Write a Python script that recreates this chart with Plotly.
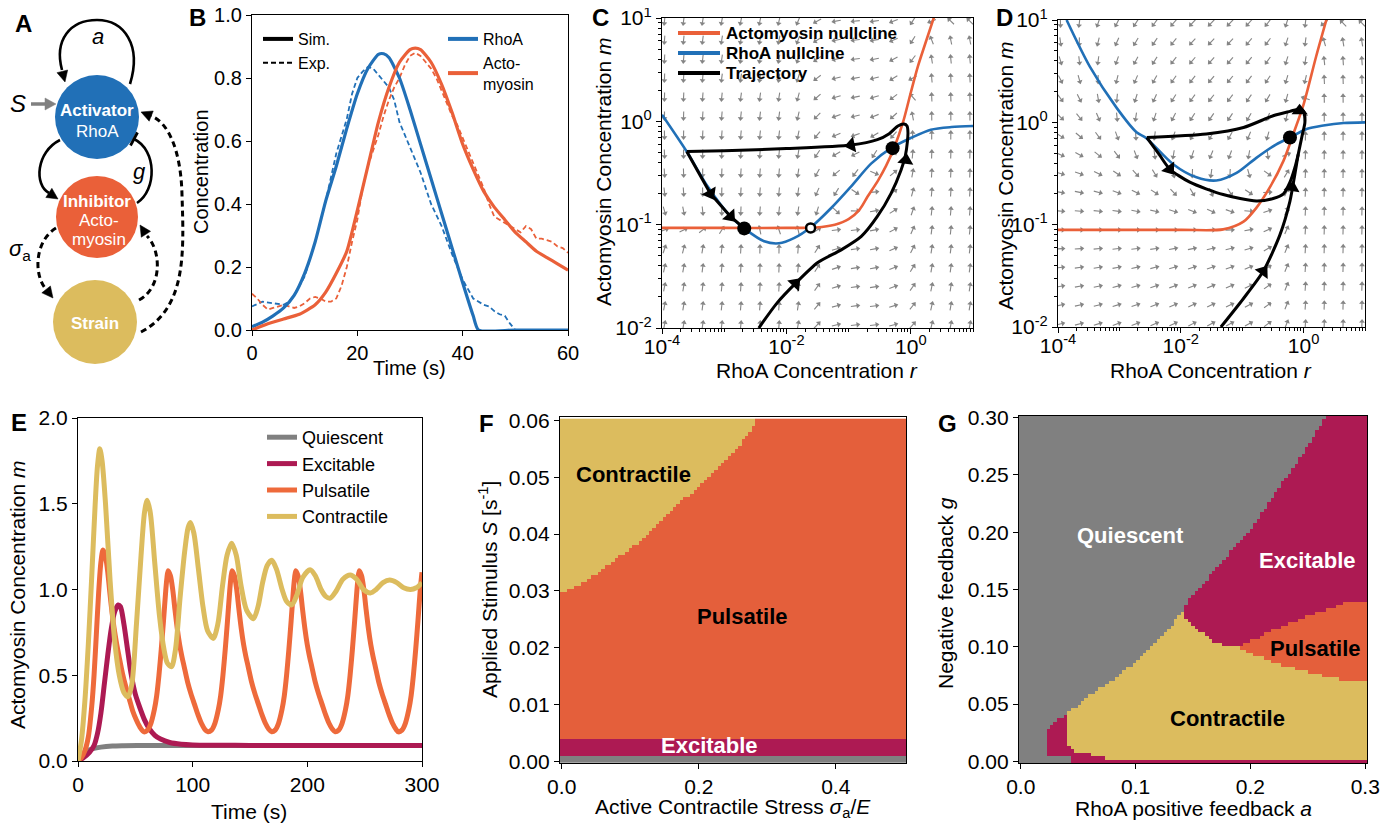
import math
import numpy as np
import plotly.graph_objects as go

# The page body has an 8px margin: the figure is drawn at (8, 8); place everything at (reference px - 8).
W, H = 1395, 824
OFF = 8
FONT = "Liberation Sans, Arial, Helvetica, sans-serif"

BLUE = "#2170b7"
ORANGE = "#ea6039"
YELLOW = "#dcbc5e"
MAGENTA = "#ad1a53"
GREY = "#808080"
QGREY = "#858585"
F_ORANGE = "#e45f3b"

# ---------------- Panel B : time courses ----------------
B_T_RHOA_SIM = [0, 2, 4, 6, 8, 10, 12, 14, 16, 18, 20, 22, 24, 25, 26, 28, 30, 32, 34, 36, 38, 40, 42, 43, 50, 60]
B_RHOA_SIM = [0.01, 0.025, 0.045, 0.07, 0.11, 0.18, 0.28, 0.41, 0.52, 0.64, 0.75, 0.83, 0.875, 0.877, 0.865, 0.80, 0.70,
              0.59, 0.48, 0.37, 0.26, 0.15, 0.045, 0.0, 0.0, 0.0]
B_T_ACTO_SIM = [0, 3, 6, 9, 12, 14, 16, 18, 20, 22, 24, 26, 28, 30, 31, 32, 34, 36, 38, 40, 42, 44, 46, 48, 50, 52, 54,
                56, 58, 60]
B_ACTO_SIM = [0.0, 0.02, 0.035, 0.05, 0.08, 0.12, 0.18, 0.25, 0.38, 0.52, 0.66, 0.77, 0.85, 0.89, 0.895, 0.89, 0.85,
              0.78, 0.69, 0.59, 0.51, 0.44, 0.39, 0.35, 0.31, 0.28, 0.25, 0.23, 0.21, 0.19]
B_T_RHOA_EXP = [0, 2, 4, 6, 7, 8, 10, 12, 14, 16, 18, 19, 20, 21, 22, 23, 24, 26, 27, 28, 30, 32, 34, 36, 38, 40, 42,
                44, 45, 46, 47, 48, 49, 50]
B_RHOA_EXP = [0.075, 0.09, 0.085, 0.08, 0.09, 0.11, 0.17, 0.28, 0.41, 0.56, 0.67, 0.75, 0.80, 0.82, 0.835, 0.83, 0.81,
              0.77, 0.73, 0.66, 0.58, 0.50, 0.40, 0.33, 0.24, 0.16, 0.10, 0.08, 0.075, 0.06, 0.05, 0.045, 0.02, 0.0]
B_T_ACTO_EXP = list(range(0, 61))
B_ACTO_EXP = [0.115, 0.10, 0.08, 0.065, 0.07, 0.075, 0.08, 0.075, 0.07, 0.075, 0.085, 0.10, 0.105, 0.10, 0.09, 0.09,
              0.10, 0.14, 0.20, 0.28, 0.35, 0.45, 0.52, 0.57, 0.62, 0.68, 0.73, 0.77, 0.80, 0.84, 0.87, 0.88, 0.87,
              0.85, 0.83, 0.80, 0.76, 0.72, 0.68, 0.65, 0.61, 0.57, 0.53, 0.49, 0.45, 0.40, 0.36, 0.35, 0.34, 0.33,
              0.32, 0.31, 0.33, 0.32, 0.29, 0.29, 0.285, 0.28, 0.265, 0.26, 0.245]

# ---------------- Panel C : phase plane (excitable) ----------------
C_ORANGE_R = [1e-4, 1e-3, 0.01, 0.03, 0.06, 0.1, 0.15, 0.2, 0.3, 0.4, 0.55, 0.75, 1.0, 1.3, 1.7, 2.4]
C_ORANGE_M = [0.093, 0.093, 0.093, 0.094, 0.1, 0.113, 0.14, 0.185, 0.27, 0.37, 0.57, 0.98, 1.9, 3.4, 5.6, 10.5]
C_BLUE_R = [1e-4, 2.5e-4, 5.4e-4, 1.26e-3, 2.2e-3, 4.4e-3, 7.6e-3, 0.0132, 0.025, 0.0525, 0.11, 0.23, 0.48, 1.0,
            2.1, 4.5, 10.0]
C_BLUE_M = [1.16, 0.51, 0.235, 0.12, 0.09, 0.069, 0.066, 0.074, 0.095, 0.145, 0.235, 0.39, 0.55, 0.69, 0.83, 0.88, 0.9]
C_TRAJ1_R = [0.0036, 0.0071, 0.014, 0.032, 0.076, 0.16, 0.29, 0.48, 0.7, 0.82, 0.88, 0.9, 0.87, 0.78, 0.62, 0.45,
             0.29, 0.11, 0.01, 0.001, 0.00025]
C_TRAJ1_M = [0.01, 0.0175, 0.027, 0.043, 0.057, 0.077, 0.12, 0.2, 0.34, 0.47, 0.63, 0.78, 0.9, 0.94, 0.9, 0.76,
             0.665, 0.59, 0.545, 0.52, 0.51]
C_TRAJ2_R = [0.00025, 0.0006, 0.00126, 0.0021]
C_TRAJ2_M = [0.51, 0.2, 0.12, 0.092]
C_STABLE_R = [0.0021, 0.51]
C_STABLE_M = [0.092, 0.55]
C_SADDLE_R = [0.0245]
C_SADDLE_M = [0.093]
C_ARROW_R = [0.014, 0.83, 0.11, 0.0006, 0.00126]
C_ARROW_M = [0.027, 0.42, 0.59, 0.2, 0.12]
C_ARROW_FROM_R = [0.0071, 0.78, 0.29, 0.00025, 0.0006]
C_ARROW_FROM_M = [0.0175, 0.32, 0.665, 0.51, 0.2]
C_LEGEND_LABELS = ["Actomyosin nullcline", "RhoA nullcline", "Trajectory"]

# ---------------- Panel D : phase plane (pulsatile) ----------------
D_ORANGE_R = [1e-4, 0.01, 0.049, 0.105, 0.17, 0.28, 0.47, 0.68, 1.0, 1.6, 2.4]
D_ORANGE_M = [0.089, 0.089, 0.09, 0.107, 0.146, 0.23, 0.42, 0.77, 1.5, 4.4, 10.5]
D_BLUE_R = [1.38e-4, 3.3e-4, 8.9e-4, 1.9e-3, 2.75e-3, 7.5e-3, 0.018, 0.038, 0.081, 0.17, 0.36, 0.6, 1.12, 2.1, 4.5,
            10.0]
D_BLUE_M = [10.0, 3.5, 1.4, 0.8, 0.7, 0.39, 0.29, 0.27, 0.32, 0.45, 0.61, 0.71, 0.86, 0.93, 0.985, 1.0]
D_TRAJ1_R = [0.045, 0.105, 0.22, 0.41, 0.6, 0.72, 0.82, 0.95, 1.05, 1.0, 0.87, 0.6, 0.32, 0.105, 0.026, 0.0028]
D_TRAJ1_M = [0.01, 0.019, 0.035, 0.079, 0.17, 0.31, 0.49, 0.75, 1.0, 1.28, 1.35, 1.28, 1.16, 0.89, 0.77, 0.71]
D_TRAJ2_R = [0.0028, 0.0045, 0.0066, 0.014, 0.049, 0.17, 0.32, 0.47, 0.6, 0.72, 0.82]
D_TRAJ2_M = [0.71, 0.48, 0.35, 0.26, 0.197, 0.17, 0.18, 0.2, 0.26, 0.36, 0.49]
D_STABLE_R = [0.6]
D_STABLE_M = [0.71]
D_ARROW_R = [0.22, 0.0066, 0.65, 0.86]
D_ARROW_M = [0.035, 0.35, 0.23, 1.3]
D_ARROW_FROM_R = [0.105, 0.0045, 0.6, 0.86]
D_ARROW_FROM_M = [0.019, 0.48, 0.17, 1.0]

# ---------------- Panel E : actomyosin time courses ----------------
E_T_QUI = [0, 3, 6, 10, 15, 20, 30, 40, 60, 100, 300]
E_QUI = [0, 0.03, 0.05, 0.065, 0.075, 0.081, 0.087, 0.089, 0.091, 0.091, 0.091]
E_T_EXC = [0, 5, 10, 14, 17, 20, 23, 26, 29, 32, 35, 37, 40, 43, 46, 50, 54, 58, 62, 67, 72, 80, 90, 100, 120, 150,
           200, 300]
E_EXC = [0, 0.02, 0.05, 0.09, 0.16, 0.28, 0.45, 0.62, 0.77, 0.87, 0.91, 0.9, 0.8, 0.66, 0.52, 0.39, 0.31, 0.24, 0.19,
         0.15, 0.128, 0.108, 0.098, 0.094, 0.092, 0.091, 0.091, 0.091]
E_T_PUL = [0, 3, 6, 9, 12, 14, 16, 18, 20, 21.8, 23.8, 25.8, 27.8, 29.8, 31.8, 33.8, 35.8, 38.8, 41.8, 44.8, 47.8,
           50.8, 53.8, 57.6,
           60.6, 63.6, 66.6, 68.6, 70.6, 72.6, 74.6, 76.6, 77.6, 78.6, 80.6, 82.6, 84.6, 86.6, 88.6, 90.6, 92.6, 95.6,
           98.6, 101.6, 104.6, 107.6, 110.6,
           113.4, 116.4, 119.4, 122.4, 124.4, 126.4, 128.4, 130.4, 132.4, 133.4, 134.4, 136.4, 138.4, 140.4, 142.4,
           144.4, 146.4, 148.4, 151.4, 154.4, 157.4, 160.4, 163.4, 166.4,
           168.9, 171.9, 174.9, 177.9, 179.9, 181.9, 183.9, 185.9, 187.9, 188.9, 189.9, 191.9, 193.9, 195.9, 197.9,
           199.9, 201.9, 203.9, 206.9, 209.9, 212.9, 215.9, 218.9, 221.9,
           224.3, 227.3, 230.3, 233.3, 235.3, 237.3, 239.3, 241.3, 243.3, 244.3, 245.3, 247.3, 249.3, 251.3, 253.3,
           255.3, 257.3, 259.3, 262.3, 265.3, 268.3, 271.3, 274.3, 277.3,
           279.5, 282.5, 285.5, 288.5, 290.5, 292.5, 294.5, 296.5, 298.5, 299.5, 300]
E_PUL = [0, 0.02, 0.06, 0.14, 0.32, 0.5, 0.74, 0.98, 1.16, 1.23, 1.2, 1.11, 0.98, 0.86, 0.76, 0.68, 0.61, 0.51, 0.43,
         0.36, 0.29, 0.24, 0.2, 0.17,
         0.18, 0.22, 0.30, 0.38, 0.50, 0.65, 0.82, 1.0, 1.07, 1.11, 1.08, 1.0, 0.88, 0.77, 0.68, 0.61, 0.55, 0.46,
         0.39, 0.33, 0.27, 0.22, 0.185,
         0.17, 0.18, 0.22, 0.30, 0.38, 0.50, 0.65, 0.82, 1.0, 1.07, 1.11, 1.08, 1.0, 0.88, 0.77, 0.68, 0.61, 0.55,
         0.46, 0.39, 0.33, 0.27, 0.22, 0.185,
         0.17, 0.18, 0.22, 0.30, 0.38, 0.50, 0.65, 0.82, 1.0, 1.07, 1.11, 1.08, 1.0, 0.88, 0.77, 0.68, 0.61, 0.55,
         0.46, 0.39, 0.33, 0.27, 0.22, 0.185,
         0.17, 0.18, 0.22, 0.30, 0.38, 0.50, 0.65, 0.82, 1.0, 1.07, 1.11, 1.08, 1.0, 0.88, 0.77, 0.68, 0.61, 0.55,
         0.46, 0.39, 0.33, 0.27, 0.22, 0.185,
         0.17, 0.18, 0.22, 0.30, 0.38, 0.50, 0.65, 0.82, 1.0, 1.07, 1.10]
E_T_CON = [0, 3, 6, 9, 12, 15, 17, 19, 21, 24, 28, 32, 36, 40, 43.7, 47, 51, 55, 58, 60.3, 63, 67, 71, 75, 78, 81.6,
           85, 89, 93, 96, 98, 101, 105, 109, 113, 118, 122, 126, 130, 134, 138, 142, 147, 153, 157, 161, 165, 169,
           173, 178, 182, 186.4, 191, 196, 202.4, 207, 212, 216, 220, 225, 231, 237.4, 243, 249, 255, 260, 266,
           271.8, 278, 284, 290, 295, 300]
E_CON = [0, 0.12, 0.35, 0.68, 1.08, 1.5, 1.72, 1.82, 1.75, 1.5, 1.05, 0.7, 0.5, 0.4, 0.375, 0.45, 0.8, 1.2, 1.45,
         1.52, 1.45, 1.15, 0.85, 0.65, 0.57, 0.55, 0.65, 0.95, 1.22, 1.36, 1.39, 1.33, 1.12, 0.9, 0.76, 0.715, 0.8,
         1.02, 1.2, 1.27, 1.2, 1.03, 0.88, 0.83, 0.9, 1.04, 1.14, 1.17, 1.12, 1.0, 0.93, 0.91, 0.97, 1.07, 1.115,
         1.08, 1.0, 0.96, 0.95, 0.99, 1.06, 1.085, 1.06, 1.0, 0.98, 1.0, 1.04, 1.055, 1.04, 1.01, 1.0, 1.01, 1.04]

# ---------------- Panel F : phase diagram sigma_a/E vs S ----------------
F_QUI_MAX = 0.0011           # S below this: quiescent
F_EXC_MAX = 0.0039           # S below this: excitable
F_B_SIG = [0.0, 0.017, 0.037, 0.076, 0.115, 0.154, 0.193, 0.222, 0.251, 0.271, 0.285]
F_B_S = [0.0297, 0.0306, 0.0318, 0.0353, 0.0388, 0.0435, 0.0476, 0.051, 0.0544, 0.0574, 0.0600]

# ---------------- Panel G : phase diagram a vs g ----------------
G_QE_A = [0.1407, 0.145, 0.154, 0.168, 0.183, 0.203, 0.224, 0.247, 0.265]
G_QE_G = [0.1296, 0.140, 0.149, 0.166, 0.183, 0.206, 0.238, 0.270, 0.300]
G_CT_A = [0.040, 0.052, 0.0635, 0.081, 0.0985, 0.116, 0.1276, 0.1407, 0.154, 0.168, 0.180, 0.189, 0.200, 0.224,
          0.253, 0.273, 0.291, 0.300]
G_CT_G = [0.041, 0.051, 0.060, 0.0714, 0.086, 0.103, 0.115, 0.1296, 0.115, 0.1048, 0.100, 0.100, 0.0946, 0.0845,
          0.077, 0.0729, 0.069, 0.069]
G_PT_A = [0.189, 0.203, 0.221, 0.238, 0.262, 0.282, 0.300]
G_PT_G = [0.1005, 0.106, 0.115, 0.122, 0.131, 0.138, 0.140]
G_LE_G = [0.0, 0.002, 0.0073, 0.010, 0.0175, 0.041]
G_LE_A = [0.078, 0.078, 0.0548, 0.043, 0.040, 0.040]
G_SL_A = [0.024, 0.031, 0.040, 0.045]
G_SL_G = [0.028, 0.035, 0.040, 0.041]

REGION_NAMES = ["Quiescent", "Excitable", "Pulsatile", "Contractile"]

# ---------------- layout helpers (reference pixel positions) ----------------
BOX = {  # left, right, top, bottom in reference px
    "B": (252, 568, 15, 330),
    "C": (662, 973, 18, 328),
    "D": (1058, 1365, 20, 327),
    "E": (78, 422, 418, 761),
    "F": (560, 906, 417, 763),
    "G": (1019, 1367, 416, 763),
}


def fx(x):
    return (x - OFF) / W


def fy(y):
    return 1 - (y - OFF) / H


def xd(k):
    l, r, t, b = BOX[k]
    return [fx(l), fx(r)]


def yd(k):
    l, r, t, b = BOX[k]
    return [fy(b), fy(t)]


def base_axis(**kw):
    d = dict(showline=True, linecolor="black", linewidth=1.2, mirror=True, ticks="outside", ticklen=5,
             tickwidth=1.2, tickcolor="black", showgrid=False, zeroline=False, automargin=False,
             ticklabeloverflow="allow", tickfont=dict(family=FONT, size=21, color="black"))
    d.update(kw)
    return d


fig = go.Figure()

# ---------------- Panel B traces ----------------
fig.add_trace(go.Scatter(x=B_T_RHOA_EXP, y=B_RHOA_EXP, mode="lines", xaxis="x", yaxis="y", showlegend=False,
                         line=dict(color=BLUE, width=1.8, dash="5px,3px")))
fig.add_trace(go.Scatter(x=B_T_ACTO_EXP, y=B_ACTO_EXP, mode="lines", xaxis="x", yaxis="y", showlegend=False,
                         line=dict(color=ORANGE, width=1.8, dash="5px,3px")))
fig.add_trace(go.Scatter(x=B_T_RHOA_SIM, y=B_RHOA_SIM, mode="lines", xaxis="x", yaxis="y", showlegend=False,
                         line=dict(color=BLUE, width=3.2, shape="spline", smoothing=0.6)))
fig.add_trace(go.Scatter(x=B_T_ACTO_SIM, y=B_ACTO_SIM, mode="lines", xaxis="x", yaxis="y", showlegend=False,
                         line=dict(color=ORANGE, width=3.2, shape="spline", smoothing=0.6)))
for nm, dash, wd, lg in [("Sim.", "solid", 4, "legend"), ("Exp.", "5px,3px", 2, "legend")]:
    fig.add_trace(go.Scatter(x=[None], y=[None], mode="lines", name=nm, xaxis="x", yaxis="y", legend=lg,
                             line=dict(color="black", width=wd, dash=dash)))
for nm, col in [("RhoA", BLUE), ("Acto-<br>myosin", ORANGE)]:
    fig.add_trace(go.Scatter(x=[None], y=[None], mode="lines", name=nm, xaxis="x", yaxis="y", legend="legend2",
                             line=dict(color=col, width=4)))


# ---------------- Panels C / D : quiver + nullclines + trajectories ----------------
def ppd(k):
    l, r, t, b = BOX[k]
    return (r - l) / 5.0, (b - t) / 3.0


QX = np.linspace(-3.96, 0.95, 17)
QY = np.linspace(-1.97, 0.97, 17)


def field_angles(orange_r, orange_m, blue_r, blue_m, kind):
    lo_r, lo_m = np.log10(orange_r), np.log10(orange_m)
    lb_r, lb_m = np.log10(blue_r), np.log10(blue_m)
    XX, YY = np.meshgrid(QX, QY)
    Yo = np.interp(XX, lo_r, lo_m)
    Yb = np.interp(XX, lb_r, lb_m)
    if kind == "C":
        vy = np.tanh(2.0 * (Yo - YY))
        vx = (6.0 * np.exp(-((XX + 0.8) / 0.5) ** 2) + 0.1) * (Yb - YY)
    else:
        vy = (Yo - YY)
        vx = (1.2 / (1.0 + np.exp((XX + 0.4) / 0.12)) + 0.05) * (Yb - YY)
    return XX.ravel(), YY.ravel(), np.arctan2(vy, vx).ravel()


def add_quiver(k, xa, ya, XX, YY, TH):
    px_x, px_y = ppd(k)
    L = 9.0
    sx, sy, hx, hy, ha = [], [], [], [], []
    for X, Y, th in zip(XX, YY, TH):
        dx = 0.5 * L * math.cos(th) / px_x
        dy = 0.5 * L * math.sin(th) / px_y
        sx += [10 ** (X - dx), 10 ** (X + 0.4 * dx), None]
        sy += [10 ** (Y - dy), 10 ** (Y + 0.4 * dy), None]
        hx.append(10 ** (X + 0.55 * dx))
        hy.append(10 ** (Y + 0.55 * dy))
        ha.append(90 - math.degrees(th))
    fig.add_trace(go.Scatter(x=sx, y=sy, mode="lines", xaxis=xa, yaxis=ya, showlegend=False, hoverinfo="skip",
                             line=dict(color=QGREY, width=1.1)))
    fig.add_trace(go.Scatter(x=hx, y=hy, mode="markers", xaxis=xa, yaxis=ya, showlegend=False, hoverinfo="skip",
                             marker=dict(symbol="triangle-up", size=5, color=QGREY, angle=ha, line=dict(width=0))))


def add_traj_arrows(k, xa, ya, ar, am, fr, fm):
    px_x, px_y = ppd(k)
    angs = []
    for r1, m1, r0, m0 in zip(ar, am, fr, fm):
        dx = (math.log10(r1) - math.log10(r0)) * px_x
        dy = (math.log10(m1) - math.log10(m0)) * px_y
        angs.append(90 - math.degrees(math.atan2(dy, dx)))
    fig.add_trace(go.Scatter(x=ar, y=am, mode="markers", xaxis=xa, yaxis=ya, showlegend=False, hoverinfo="skip",
                             marker=dict(symbol="triangle-up", size=14, color="black", angle=angs,
                                         line=dict(width=0))))


XX, YY, TH = field_angles(C_ORANGE_R, C_ORANGE_M, C_BLUE_R, C_BLUE_M, "C")
add_quiver("C", "x2", "y2", XX, YY, TH)
fig.add_trace(go.Scatter(x=C_ORANGE_R, y=C_ORANGE_M, mode="lines", xaxis="x2", yaxis="y2", showlegend=False,
                         name=C_LEGEND_LABELS[0], line=dict(color=ORANGE, width=2.6, shape="spline", smoothing=0.8)))
fig.add_trace(go.Scatter(x=C_BLUE_R, y=C_BLUE_M, mode="lines", xaxis="x2", yaxis="y2", showlegend=False,
                         name=C_LEGEND_LABELS[1], line=dict(color=BLUE, width=2.6, shape="spline", smoothing=0.8)))
fig.add_trace(go.Scatter(x=C_TRAJ1_R, y=C_TRAJ1_M, mode="lines", xaxis="x2", yaxis="y2", showlegend=False,
                         name=C_LEGEND_LABELS[2], line=dict(color="black", width=3, shape="spline", smoothing=0.7)))
fig.add_trace(go.Scatter(x=C_TRAJ2_R, y=C_TRAJ2_M, mode="lines", xaxis="x2", yaxis="y2", showlegend=False,
                         line=dict(color="black", width=3)))
add_traj_arrows("C", "x2", "y2", C_ARROW_R, C_ARROW_M, C_ARROW_FROM_R, C_ARROW_FROM_M)
fig.add_trace(go.Scatter(x=C_STABLE_R, y=C_STABLE_M, mode="markers", xaxis="x2", yaxis="y2", showlegend=False,
                         marker=dict(size=14, color="black")))
fig.add_trace(go.Scatter(x=C_SADDLE_R, y=C_SADDLE_M, mode="markers", xaxis="x2", yaxis="y2", showlegend=False,
                         marker=dict(size=9, color="white", line=dict(color="black", width=2.5))))

XX, YY, TH = field_angles(D_ORANGE_R, D_ORANGE_M, D_BLUE_R, D_BLUE_M, "D")
add_quiver("D", "x3", "y3", XX, YY, TH)
fig.add_trace(go.Scatter(x=D_ORANGE_R, y=D_ORANGE_M, mode="lines", xaxis="x3", yaxis="y3", showlegend=False,
                         line=dict(color=ORANGE, width=2.6, shape="spline", smoothing=0.8)))
fig.add_trace(go.Scatter(x=D_BLUE_R, y=D_BLUE_M, mode="lines", xaxis="x3", yaxis="y3", showlegend=False,
                         line=dict(color=BLUE, width=2.6, shape="spline", smoothing=0.8)))
fig.add_trace(go.Scatter(x=D_TRAJ1_R, y=D_TRAJ1_M, mode="lines", xaxis="x3", yaxis="y3", showlegend=False,
                         line=dict(color="black", width=3, shape="spline", smoothing=0.7)))
fig.add_trace(go.Scatter(x=D_TRAJ2_R, y=D_TRAJ2_M, mode="lines", xaxis="x3", yaxis="y3", showlegend=False,
                         line=dict(color="black", width=3, shape="spline", smoothing=0.7)))
add_traj_arrows("D", "x3", "y3", D_ARROW_R, D_ARROW_M, D_ARROW_FROM_R, D_ARROW_FROM_M)
fig.add_trace(go.Scatter(x=D_STABLE_R, y=D_STABLE_M, mode="markers", xaxis="x3", yaxis="y3", showlegend=False,
                         marker=dict(size=14, color="black")))

# ---------------- Panel E traces ----------------
for nm, t, v, col in [("Quiescent", E_T_QUI, E_QUI, GREY), ("Excitable", E_T_EXC, E_EXC, MAGENTA),
                      ("Pulsatile", E_T_PUL, E_PUL, "#ee6a3b"), ("Contractile", E_T_CON, E_CON, YELLOW)]:
    fig.add_trace(go.Scatter(x=t, y=v, mode="lines", name=nm, xaxis="x4", yaxis="y4", legend="legend3",
                             line=dict(color=col, width=5, shape="spline", smoothing=0.8)))

CSCALE = [[0, GREY], [0.1667, GREY], [0.1667, MAGENTA], [0.5, MAGENTA], [0.5, F_ORANGE], [0.8333, F_ORANGE],
          [0.8333, YELLOW], [1, YELLOW]]

# ---------------- Panel F heatmap ----------------
F_SIG = np.round(np.arange(0, 0.5001, 0.005), 4)
F_S = np.round(np.arange(0, 0.06001, 0.0006), 5)
ZF = np.zeros((len(F_S), len(F_SIG)))
for i, s_val in enumerate(F_S):
    for j, sg in enumerate(F_SIG):
        if s_val < F_QUI_MAX:
            c = 0
        elif s_val < F_EXC_MAX:
            c = 1
        elif s_val > np.interp(sg, F_B_SIG, F_B_S, right=1.0):
            c = 3
        else:
            c = 2
        ZF[i, j] = c
fig.add_trace(go.Heatmap(x=F_SIG, y=F_S, z=ZF, xaxis="x5", yaxis="y5", colorscale=CSCALE, zmin=0, zmax=3,
                         showscale=False, hoverinfo="skip"))

# ---------------- Panel G heatmap ----------------
G_A = np.round(np.arange(0, 0.3001, 0.003), 4)
G_G = np.round(np.arange(0, 0.3001, 0.003), 4)


def g_class(a, g):
    ct = np.interp(a, G_CT_A, G_CT_G, left=-1.0)
    le = np.interp(g, G_LE_G, G_LE_A)
    if g <= 0.0016:
        return 1 if a >= 0.045 else 0
    if a >= le and g <= ct:
        return 3
    if a >= 0.189 and g <= np.interp(a, G_PT_A, G_PT_G):
        return 2
    if a >= 0.1407 and g <= np.interp(a, G_QE_A, G_QE_G, right=1.0):
        return 1
    if 0.024 <= a < le and 0.0058 <= g <= np.interp(a, G_SL_A, G_SL_G):
        return 1
    if 0.045 <= a < le and g < 0.0058:
        return 1
    return 0


ZG = np.array([[g_class(a, g) for a in G_A] for g in G_G])
fig.add_trace(go.Heatmap(x=G_A, y=G_G, z=ZG, xaxis="x6", yaxis="y6", colorscale=CSCALE, zmin=0, zmax=3,
                         showscale=False, hoverinfo="skip"))

# ---------------- Panel A diagram (schematic, reference pixel units) ----------------
shapes = []


def head_path(tx, ty, dx, dy, L=11, wd=5.5):
    n = math.hypot(dx, dy)
    ux, uy = dx / n, dy / n
    bx, by = tx - L * ux, ty - L * uy
    nx, ny = -uy, ux
    return f"M {tx},{ty} L {bx + wd * nx},{by + wd * ny} L {bx - wd * nx},{by - wd * ny} Z"


def add_path(d, color="black", width=2.6, dash=None, fill=None):
    ln = dict(color=color, width=width)
    if dash:
        ln["dash"] = dash
    s = dict(type="path", path=d, xref="x7", yref="y7", line=ln, layer="above")
    if fill:
        s["fillcolor"] = fill
    shapes.append(s)


for cx, cy, r, col in [(97, 117, 42, BLUE), (97, 217, 41, ORANGE), (95, 322, 42, YELLOW)]:
    shapes.append(dict(type="circle", xref="x7", yref="y7", x0=cx - r, x1=cx + r, y0=cy - r, y1=cy + r,
                       fillcolor=col, line=dict(width=0), layer="above"))

add_path("M 130,84 C 142,45 124,20 97,20 C 70,20 54,40 62,70")
add_path(head_path(65, 82, 3, 12), width=0.5, fill="black")
add_path("M 60,140 C 36,152 34,185 49,193")
add_path(head_path(58, 199, 9, 6), width=0.5, fill="black")
add_path("M 137,203 C 157,190 157,150 134,139")
add_path("M 130.5,145.5 L 137.5,132.5", width=2.8)
add_path("M 56,228 C 36,240 33,272 45,288", width=3, dash="6px,4px")
add_path(head_path(53, 298, 8, 10), width=0.5, fill="black")
add_path("M 139,300 C 163,287 161,250 147,236", width=3, dash="6px,4px")
add_path(head_path(140, 225, -7, -11), width=0.5, fill="black")
add_path("M 141,332 C 186,308 184,255 182,195 C 181,150 168,122 151,116", width=3, dash="6px,4px")
add_path(head_path(141, 112, -10, -4), width=0.5, fill="black")
add_path("M 31,104 L 46,104", color=GREY, width=3.5)
add_path(head_path(56, 104, 1, 0, L=11, wd=6), color=GREY, width=0.5, fill=GREY)

annotations = []


def ann_px(x, y, text, size=21, color="black", angle=0, xanchor="center", bold=False, ref=None):
    if bold:
        text = f"<b>{text}</b>"
    a = dict(text=text, showarrow=False, textangle=angle, xanchor=xanchor, yanchor="middle",
             font=dict(family=FONT, size=size, color=color))
    if ref:
        a.update(xref=ref[0], yref=ref[1], x=x, y=y)
    else:
        a.update(xref="paper", yref="paper", x=fx(x), y=fy(y))
    annotations.append(a)


# legend of panel C (drawn as line samples + labels)
for i, (lab, col) in enumerate(zip(C_LEGEND_LABELS, [ORANGE, BLUE, "black"])):
    yy = 33 + 20 * i
    shapes.append(dict(type="line", xref="paper", yref="paper", x0=fx(678), x1=fx(720), y0=fy(yy), y1=fy(yy),
                       line=dict(color=col, width=4), layer="above"))
    ann_px(724, yy, lab, 17, xanchor="left", bold=True)

DREF = ("x7", "y7")
ann_px(97, 110, "Activator", 17, "white", bold=True, ref=DREF)
ann_px(97, 131, "RhoA", 17, "white", ref=DREF)
ann_px(97, 201, "Inhibitor", 17, "white", bold=True, ref=DREF)
ann_px(99, 220, "Acto-", 17, "white", ref=DREF)
ann_px(99, 239, "myosin", 17, "white", ref=DREF)
ann_px(95, 323, "Strain", 17, "white", bold=True, ref=DREF)
ann_px(98, 36, "<i>a</i>", 22, ref=DREF)
ann_px(18, 103, "<i>S</i>", 24, ref=DREF)
ann_px(139, 171, "<i>g</i>", 22, ref=DREF)
ann_px(20, 250, "<i>σ</i><sub>a</sub>", 22, ref=DREF)

# panel letters
for letter, x, y in [("A", 23, 24), ("B", 197, 18), ("C", 600, 18), ("D", 1005, 18), ("E", 19, 422),
                     ("F", 486, 423), ("G", 947, 423)]:
    ann_px(x, y, letter, 24, bold=True)

# axis titles
ann_px(410, 368, "Time (s)", 20)
ann_px(201, 172, "Concentration", 20, angle=-90)
ann_px(817, 370, "RhoA Concentration <i>r</i>", 21)
ann_px(603, 172, "Actomyosin Concentration <i>m</i>", 21, angle=-90)
ann_px(1211, 370, "RhoA Concentration <i>r</i>", 21)
ann_px(1005, 176, "Actomyosin Concentration <i>m</i>", 21, angle=-90)
ann_px(249, 811, "Time (s)", 21)
ann_px(17, 595, "Actomyosin Concentration <i>m</i>", 21, angle=-90)
ann_px(733, 808, "Active Contractile Stress <i>σ</i><sub>a</sub>/<i>E</i>", 21)
ann_px(488, 590, "Applied Stimulus <i>S</i> [s<sup>-1</sup>]", 21, angle=-90)
ann_px(1193, 808, "RhoA positive feedback <i>a</i>", 21)
ann_px(945, 593, "Negative feedback <i>g</i>", 21, angle=-90)

# region labels
ann_px(633, 474, "Contractile", 22, bold=True)
ann_px(742, 616, "Pulsatile", 22, bold=True)
ann_px(710, 745, "Excitable", 22, "white", bold=True)
ann_px(1130, 535, "Quiescent", 22, "white", bold=True)
ann_px(1307, 560, "Excitable", 22, "white", bold=True)
ann_px(1315, 648, "Pulsatile", 22, bold=True)
ann_px(1227, 718, "Contractile", 22, bold=True)

# ---------------- axes ----------------
LOG_MINOR_X = [m * 10.0 ** e for e in range(-4, 1) for m in range(2, 10)] + [1e-3, 1e-1, 10]
LOG_MINOR_Y = [m * 10.0 ** e for e in range(-2, 1) for m in range(2, 10)]
minor_log_x = dict(tickmode="array", tickvals=LOG_MINOR_X, ticks="outside", ticklen=3, tickwidth=1,
                   tickcolor="black", showgrid=False)
minor_log_y = dict(tickmode="array", tickvals=LOG_MINOR_Y, ticks="outside", ticklen=3, tickwidth=1,
                   tickcolor="black", showgrid=False)
LOGX_TV = [1e-4, 1e-2, 1]
LOGX_TT = ["10<sup>-4</sup>", "10<sup>-2</sup>", "10<sup>0</sup>"]
LOGY_TV = [1e-2, 1e-1, 1, 10]
LOGY_TT = ["10<sup>-2</sup>", "10<sup>-1</sup>", "10<sup>0</sup>", "10<sup>1</sup>"]

legend_common = dict(xanchor="left", yanchor="top", bgcolor="rgba(0,0,0,0)", borderwidth=0, xref="paper",
                     yref="paper", tracegroupgap=0)

fig.update_layout(
    width=W, height=H, margin=dict(l=0, r=0, t=0, b=0, autoexpand=False), paper_bgcolor="white",
    plot_bgcolor="white",
    font=dict(family=FONT, color="black"),
    xaxis=base_axis(domain=xd("B"), range=[0, 60], tickvals=[0, 20, 40, 60], anchor="y",
                    tickfont=dict(family=FONT, size=20, color="black")),
    yaxis=base_axis(domain=yd("B"), range=[0, 1], tickvals=[0, 0.2, 0.4, 0.6, 0.8, 1.0], tickformat=".1f",
                    anchor="x", tickfont=dict(family=FONT, size=20, color="black")),
    xaxis2=base_axis(domain=xd("C"), type="log", range=[-4, 1], tickvals=LOGX_TV, ticktext=LOGX_TT, anchor="y2",
                     minor=minor_log_x, ticklabelstandoff=-5),
    yaxis2=base_axis(domain=yd("C"), type="log", range=[-2, 1], tickvals=LOGY_TV, ticktext=LOGY_TT, anchor="x2",
                     minor=minor_log_y),
    xaxis3=base_axis(domain=xd("D"), type="log", range=[-4, 1], tickvals=LOGX_TV, ticktext=LOGX_TT, anchor="y3",
                     minor=minor_log_x, ticklabelstandoff=-5),
    yaxis3=base_axis(domain=yd("D"), type="log", range=[-2, 1], tickvals=LOGY_TV, ticktext=LOGY_TT, anchor="x3",
                     minor=minor_log_y),
    xaxis4=base_axis(domain=xd("E"), range=[0, 300], tickvals=[0, 100, 200, 300], anchor="y4"),
    yaxis4=base_axis(domain=yd("E"), range=[0, 2.0], tickvals=[0, 0.5, 1.0, 1.5, 2.0], tickformat=".1f",
                     anchor="x4"),
    xaxis5=base_axis(domain=xd("F"), range=[-0.0025, 0.5025], tickvals=[0, 0.2, 0.4], tickformat=".1f",
                     anchor="y5"),
    yaxis5=base_axis(domain=yd("F"), range=[-0.0003, 0.0606], tickvals=[0, 0.01, 0.02, 0.03, 0.04, 0.05, 0.06],
                     tickformat=".2f", anchor="x5"),
    xaxis6=base_axis(domain=xd("G"), range=[-0.0015, 0.3015], tickvals=[0, 0.1, 0.2, 0.3], tickformat=".1f",
                     anchor="y6"),
    yaxis6=base_axis(domain=yd("G"), range=[-0.0015, 0.3015], tickvals=[0, 0.05, 0.10, 0.15, 0.20, 0.25, 0.30],
                     tickformat=".2f", anchor="x6"),
    xaxis7=dict(domain=[0, fx(195)], range=[OFF, 195], visible=False, fixedrange=True, anchor="y7",
                automargin=False),
    yaxis7=dict(domain=[fy(370), 1], range=[370, OFF], visible=False, fixedrange=True, anchor="x7",
                automargin=False),
    legend=dict(x=fx(258), y=fy(22), font=dict(family=FONT, size=16, color="black"), **legend_common),
    legend2=dict(x=fx(443), y=fy(22), font=dict(family=FONT, size=16, color="black"), **legend_common),
    legend3=dict(x=fx(262), y=fy(419), font=dict(family=FONT, size=18, color="black"), **legend_common),
    shapes=shapes,
    annotations=annotations,
)

fig.write_html("out.html")
